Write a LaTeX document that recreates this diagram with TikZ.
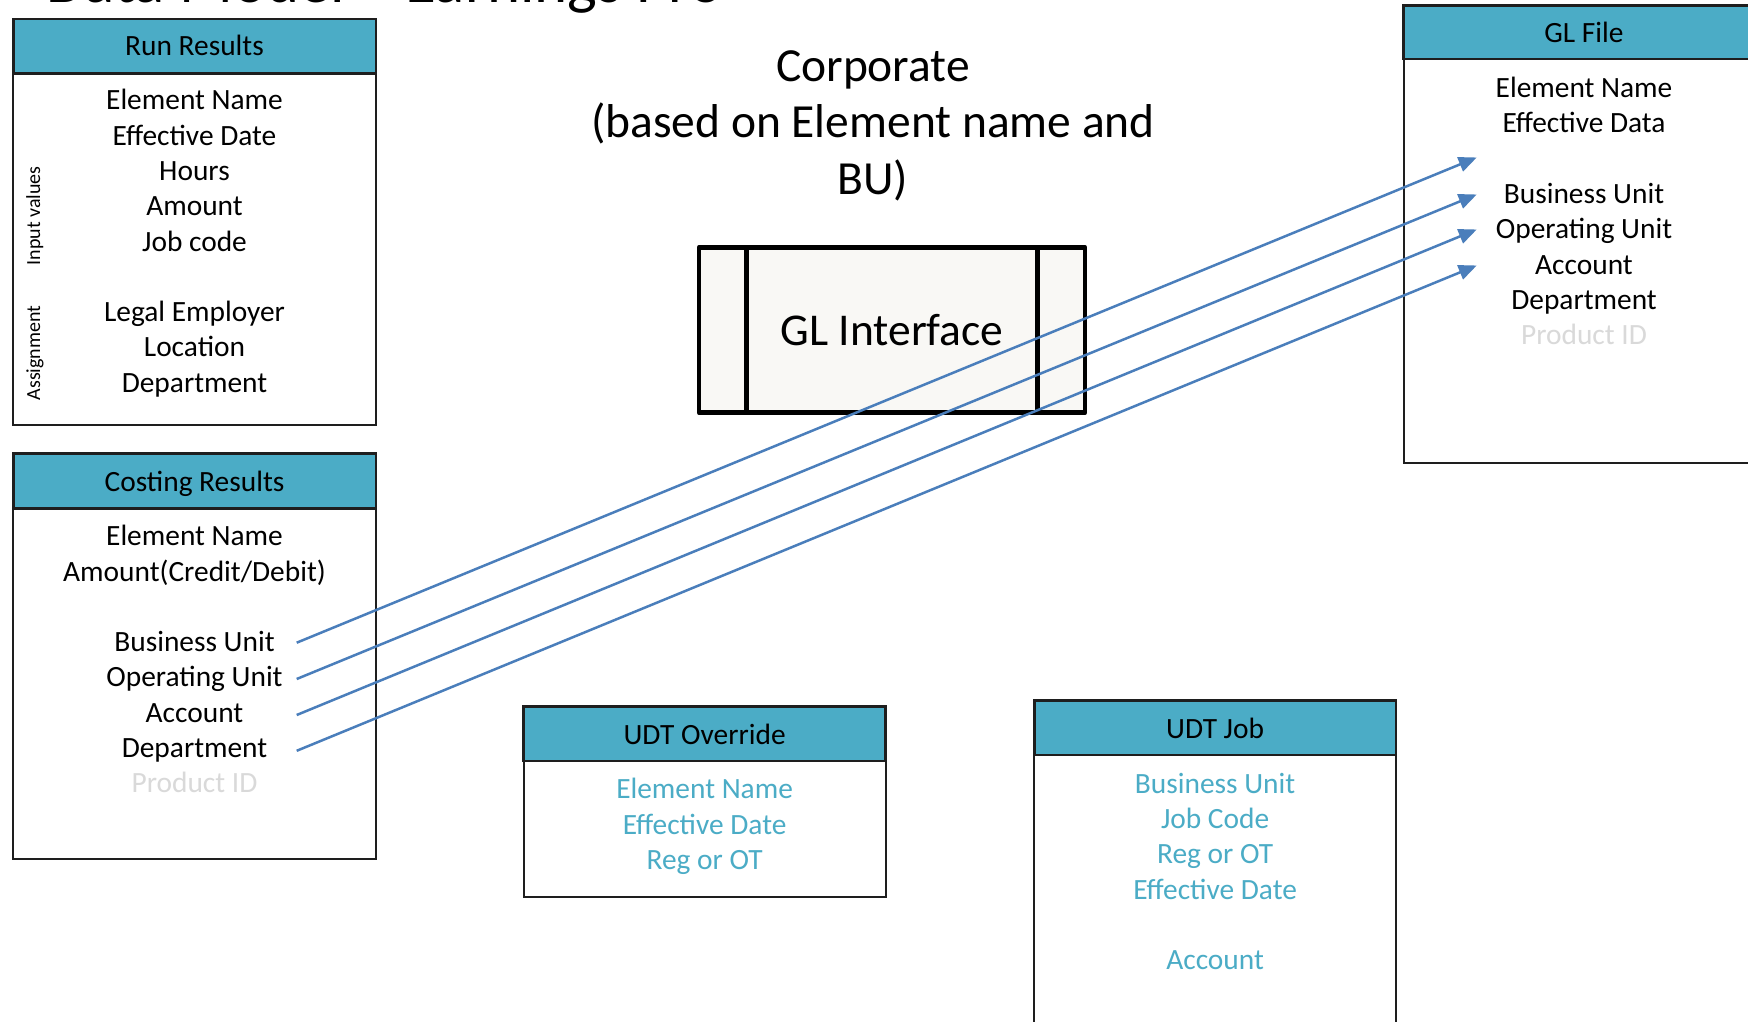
\documentclass[tikz,border=0pt]{standalone}
\usepackage{fontspec}
\setmainfont{Carlito}
\usetikzlibrary{arrows.meta}
\definecolor{hdrblue}{HTML}{4BACC6}
\definecolor{arrowblue}{HTML}{4A7EBB}
\definecolor{palegray}{HTML}{D9D9D9}
\definecolor{ifill}{HTML}{F9F8F5}
\definecolor{boxline}{HTML}{1E1E1E}
\begin{document}
\begin{tikzpicture}[x=1pt,y=-1pt,
  txt/.style={inner sep=0pt, anchor=base, font=\fontsize{29.4}{35}\selectfont},
  tealtxt/.style={txt, text=hdrblue},
  greytxt/.style={txt, text=palegray},
  frame/.style={draw=boxline, line width=2pt, fill=white},
  header/.style={draw=boxline, line width=2.4pt, fill=hdrblue},
  link/.style={draw=arrowblue, line width=2.5pt, -{Triangle[length=18pt,width=15pt]}},
  sidelabel/.style={inner sep=0pt, anchor=base, rotate=90, font=\fontsize{20}{24}\selectfont},
  bigtxt/.style={inner sep=0pt, anchor=base, font=\fontsize{47.5}{57}\selectfont},
  gibox/.style={draw=black, line width=4.6pt, fill=ifill, line join=round},
]
\useasboundingbox (0,0) rectangle (1748,1022);
\clip (0,0) rectangle (1748,1022);

% clipped title at the top edge
\node[inner sep=0pt, anchor=base west, font=\fontsize{63}{70}\selectfont] (title) at (46,2.5) {Data Model – Earnings Pro};

% faint shapes at right edge
\fill[black!6] (1722,152) ellipse [x radius=15pt, y radius=48pt];
\fill[black!6] (1745,312) ellipse [x radius=18pt, y radius=55pt];

% ---------- Run Results ----------
\draw[frame] (13.4,19) rectangle (375.7,424.7);
\draw[header] (13.4,19) rectangle (375.7,73.6);
\node[txt] (rrhead) at (194.5,55.8) {Run Results};
\foreach \ty/\tx [count=\i] in {109.8/Element Name, 145.1/Effective Date, 180.4/Hours, 215.7/Amount, 251.0/Job code, 321.6/Legal Employer, 356.9/Location, 392.2/Department}
  \node[txt] (rr\i) at (194.5,\ty) {\tx};
\node[sidelabel] (inputlbl) at (40,216) {Input values};
\node[sidelabel] (assignlbl) at (40,353) {Assignment};

% ---------- Costing Results ----------
\draw[frame] (13.4,453.5) rectangle (375.7,859.3);
\draw[header] (13.4,453.5) rectangle (375.7,508.3);
\node[txt] (crhead) at (194.5,491.1) {Costing Results};
\foreach \ty/\tx [count=\i] in {545.7/{Element Name}, 581.0/{Amount(Credit/Debit)}, 651.6/{Business Unit}, 686.9/{Operating Unit}, 722.2/{Account}, 757.5/{Department}}
  \node[txt] (cr\i) at (194.5,\ty) {\tx};
\node[greytxt] (cr7) at (194.5,792.8) {Product ID};

% ---------- Corporate ----------
\node[bigtxt] (corp1) at (873,81.1) {Corporate};
\node[bigtxt] (corp2) at (873,137.9) {(based on Element name and};
\node[bigtxt] (corp3) at (873,194.8) {BU)};

% ---------- GL Interface ----------
\draw[gibox] (699,247.3) rectangle (1085,412.7);
\draw[black, line width=4.6pt] (746.7,247.3) -- (746.7,412.7);
\draw[black, line width=4.6pt] (1037.3,247.3) -- (1037.3,412.7);
\node[inner sep=0pt, anchor=base, font=\fontsize{45.5}{54}\selectfont] (glint) at (892,345.5) {GL Interface};

% ---------- GL File ----------
\draw[frame] (1403.6,5.6) rectangle (1770,462.6);
\draw[header] (1403.6,5.6) rectangle (1770,59);
\node[txt] (glhead) at (1584,42.5) {GL File};
\foreach \ty/\tx [count=\i] in {97.5/Element Name, 132.8/Effective Data, 203.4/Business Unit, 238.7/Operating Unit, 274.0/Account, 309.3/Department}
  \node[txt] (gl\i) at (1584,\ty) {\tx};
\node[greytxt] (gl7) at (1584,344.6) {Product ID};

% ---------- UDT Override ----------
\draw[frame] (523.6,706.4) rectangle (885.5,897.3);
\draw[header] (523.6,706.4) rectangle (885.5,761.2);
\node[txt] (uohead) at (704.6,744) {UDT Override};
\foreach \ty/\tx [count=\i] in {798.8/Element Name, 834.1/Effective Date, 869.4/Reg or OT}
  \node[tealtxt] (uo\i) at (704.6,\ty) {\tx};

% ---------- UDT Job ----------
\draw[frame] (1034.3,700.6) rectangle (1395.9,1040);
\draw[header] (1034.3,700.6) rectangle (1395.9,755);
\node[txt] (ujhead) at (1215.1,738) {UDT Job};
\foreach \ty/\tx [count=\i] in {793.2/Business Unit, 828.5/Job Code, 863.8/Reg or OT, 899.1/Effective Date, 969.7/Account}
  \node[tealtxt] (uj\i) at (1215.1,\ty) {\tx};

% ---------- connectors ----------
\coordinate (cs1) at (296.7,642.7);
\coordinate (cs2) at (296.7,679.0);
\coordinate (cs3) at (296.7,715.0);
\coordinate (cs4) at (296.7,750.8);
\coordinate (ge1) at (1476.7,157.5);
\coordinate (ge2) at (1476.7,194.5);
\coordinate (ge3) at (1476.7,229.5);
\coordinate (ge4) at (1476.7,265.5);
\foreach \i in {1,...,4}
  \draw[link] (cs\i) -- (ge\i);
\end{tikzpicture}
\end{document}
